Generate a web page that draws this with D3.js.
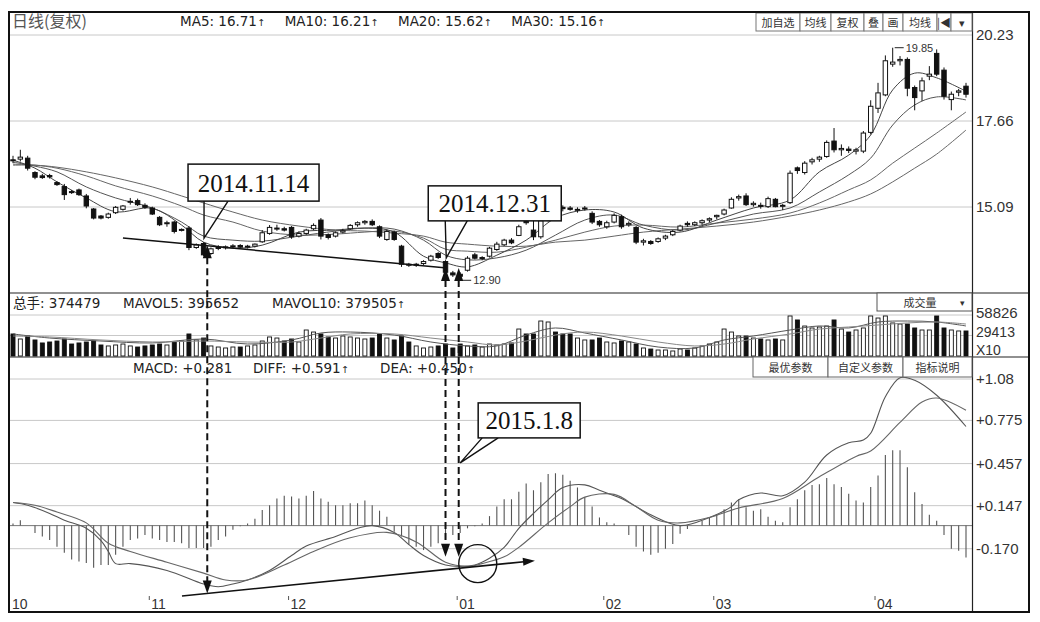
<!DOCTYPE html>
<html><head><meta charset="utf-8">
<script src="https://cdn.jsdelivr.net/npm/d3@7/dist/d3.min.js"></script>
<style>
html,body{margin:0;padding:0;background:#fff;}
svg{display:block;}
</style></head><body>
<svg id="chart" width="1040" height="622" xmlns="http://www.w3.org/2000/svg"></svg>
<script>
// ================= DATA =================
// daily candles [open, high, low, close]
const candles = [
[16.50,16.62,16.40,16.48],[16.52,16.80,16.45,16.58],[16.55,16.62,16.18,16.25],[16.12,16.16,15.92,15.98],[16.02,16.08,15.93,15.97],
[16.03,16.08,15.94,15.99],[15.82,15.86,15.72,15.76],[15.70,15.78,15.30,15.46],[15.55,15.60,15.48,15.52],[15.60,15.64,15.42,15.46],
[15.42,15.48,15.05,15.12],[15.03,15.06,14.72,14.76],[14.82,14.85,14.72,14.76],[14.78,14.92,14.74,14.88],[14.92,15.12,14.88,15.08],
[15.02,15.15,14.98,15.12],[15.24,15.36,15.16,15.26],[15.28,15.34,15.12,15.16],[15.14,15.20,15.04,15.08],[15.06,15.10,14.85,14.88],
[14.78,14.82,14.52,14.56],[14.60,14.68,14.50,14.62],[14.64,14.68,14.30,14.36],[14.40,14.45,14.36,14.42],[14.46,14.52,13.80,13.88],
[13.88,14.00,13.84,13.96],[14.00,14.04,13.62,13.66],[13.70,13.88,13.66,13.84],[13.86,13.95,13.80,13.88],[13.88,13.94,13.82,13.90],
[13.90,13.98,13.86,13.93],[13.94,13.98,13.86,13.89],[13.90,13.96,13.85,13.92],[13.92,14.00,13.88,13.98],[14.05,14.40,14.02,14.32],
[14.30,14.55,14.26,14.48],[14.45,14.56,14.38,14.46],[14.44,14.50,14.36,14.40],[14.48,14.52,14.14,14.20],[14.22,14.36,14.18,14.30],
[14.30,14.44,14.26,14.40],[14.44,14.60,14.40,14.54],[14.70,14.76,14.12,14.22],[14.26,14.30,14.12,14.18],[14.22,14.36,14.18,14.32],
[14.34,14.44,14.30,14.38],[14.44,14.58,14.40,14.54],[14.56,14.66,14.50,14.62],[14.62,14.70,14.56,14.66],[14.66,14.72,14.52,14.56],
[14.50,14.54,14.16,14.22],[14.12,14.42,14.08,14.36],[14.34,14.38,14.08,14.12],[13.92,13.96,13.30,13.38],[13.38,13.42,13.30,13.35],
[13.36,13.42,13.30,13.38],[13.40,13.50,13.36,13.46],[13.50,13.66,13.46,13.62],[13.70,13.74,13.54,13.58],[13.46,13.50,13.10,13.14],
[13.12,13.18,13.00,13.06],[13.08,13.14,12.90,13.02],[13.20,13.62,13.16,13.56],[13.66,13.72,13.52,13.56],[13.56,13.62,13.50,13.58],
[13.62,13.90,13.58,13.86],[13.82,14.05,13.78,13.98],[13.96,14.14,13.92,14.10],[14.10,14.16,13.98,14.02],[14.24,14.56,14.22,14.50],
[14.66,14.72,14.56,14.62],[14.40,14.72,14.10,14.20],[14.20,14.74,14.14,14.68],[14.70,15.26,14.66,15.18],[15.28,15.40,15.10,15.16],
[15.08,15.14,14.96,15.04],[15.06,15.12,14.98,15.02],[15.00,15.08,14.92,15.02],[15.04,15.12,14.98,15.06],[14.90,14.96,14.58,14.64],
[14.66,14.70,14.50,14.56],[14.50,14.68,14.44,14.62],[14.64,14.90,14.60,14.84],[14.80,14.86,14.44,14.50],[14.56,14.66,14.50,14.60],
[14.48,14.52,13.98,14.04],[14.04,14.14,13.94,14.08],[14.06,14.10,13.96,14.00],[14.06,14.18,14.02,14.14],[14.16,14.26,14.10,14.22],
[14.26,14.40,14.22,14.36],[14.40,14.56,14.36,14.52],[14.60,14.66,14.50,14.56],[14.56,14.66,14.52,14.62],[14.62,14.72,14.56,14.68],
[14.70,14.78,14.64,14.74],[14.80,14.86,14.72,14.84],[14.88,15.04,14.84,15.00],[15.06,15.38,15.04,15.32],[15.36,15.46,15.28,15.40],
[15.42,15.50,15.12,15.16],[15.16,15.26,15.10,15.20],[15.14,15.22,15.04,15.12],[15.10,15.40,15.06,15.34],[15.32,15.36,15.08,15.10],
[15.12,15.18,15.00,15.14],[15.22,16.18,15.18,16.10],[16.26,16.30,16.08,16.18],[16.12,16.46,16.06,16.40],[16.44,16.56,16.36,16.50],
[16.52,16.62,16.44,16.58],[16.60,17.08,16.56,17.02],[17.06,17.45,16.72,16.80],[16.80,16.96,16.62,16.84],[16.82,16.90,16.70,16.78],
[16.76,16.86,16.66,16.80],[16.76,17.36,16.70,17.30],[17.32,18.28,17.26,18.10],[18.04,18.80,17.90,18.50],[18.44,19.62,18.40,19.46],
[19.36,19.85,19.28,19.42],[19.46,19.60,19.32,19.50],[19.50,19.56,18.40,18.64],[18.66,18.72,17.98,18.36],[18.56,18.96,18.26,18.86],
[19.00,19.30,18.88,19.06],[19.68,19.80,19.00,19.06],[19.18,19.26,18.30,18.40],[18.30,18.54,17.98,18.46],[18.52,18.62,18.40,18.56],
[18.70,18.80,18.36,18.46]
];

// moving-average lines, read at these bar positions
const maIdx = [0,3,6,10,14,19,23,26,30,34,39,44,48,52,56,59,62,66,70,74,78,82,86,91,96,101,106,110,114,117,120,123,126,130];
const ma5  = [16.49,16.25,15.84,15.36,14.95,15.05,14.55,14.04,13.86,13.95,14.34,14.40,14.46,14.34,13.62,13.42,13.30,13.65,14.10,14.76,15.00,14.94,14.46,14.34,14.70,15.06,15.30,16.14,16.64,17.24,18.59,19.09,18.95,18.55];
const ma10 = [16.43,16.31,16.14,15.69,15.36,15.06,14.64,14.22,14.10,14.07,14.22,14.37,14.46,14.43,14.10,13.65,13.51,13.57,13.80,14.25,14.70,14.85,14.55,14.40,14.61,14.88,15.06,15.54,16.05,16.55,17.54,18.14,18.38,18.29];
const ma20 = [16.37,16.34,16.25,16.02,15.72,15.42,15.12,14.85,14.64,14.37,14.25,14.28,14.34,14.37,14.16,13.83,13.77,13.74,13.89,14.10,14.34,14.52,14.55,14.49,14.61,14.73,14.91,15.21,15.60,15.90,16.40,16.85,17.30,17.93];
const ma30 = [16.34,16.34,16.28,16.14,15.96,15.69,15.42,15.21,14.94,14.70,14.52,14.40,14.37,14.31,14.22,14.04,13.98,13.92,13.92,14.04,14.10,14.22,14.34,14.43,14.52,14.64,14.82,15.00,15.24,15.48,15.84,16.25,16.67,17.39];

// volume (x10 lots)
const volumes = [
31600,24400,28700,23000,18700,20100,21500,24400,17200,18700,
20100,21500,15800,14400,15800,17200,14400,12900,14400,15800,
17200,15800,20100,21500,31600,23000,25800,14400,12900,11500,
12900,12900,14400,15800,21500,27300,25800,21500,24400,20100,
37300,34400,31600,27300,25800,28700,27300,25800,24400,25800,
31600,25800,23000,28700,20100,14400,11500,12900,14400,17200,
11500,17200,14400,15800,12900,17200,15800,17200,18700,38700,
31600,31600,50200,48800,34400,31600,31600,25800,23000,23000,
25800,20100,18700,21500,20100,17200,11500,10000,8600,8600,
7200,10000,8600,11500,14400,17200,20100,38700,34400,28700,
28700,25800,24400,23000,24400,23000,57400,51700,43000,40200,
41600,43000,51700,38700,34400,37300,40200,57400,54500,57400,
47400,45900,45900,40200,37300,37300,57400,40200,37300,35900,
35900];
const mavolIdx = [0,5,12,19,26,32,38,42,46,52,57,62,66,70,74,78,83,88,93,97,101,106,110,114,118,122,126,130];
const mavol5  = [31600,25800,21500,18700,24400,17200,23000,33000,34400,30100,20100,14400,14400,30100,40200,33000,23000,12900,11500,23000,28700,37300,43100,40200,48800,50200,48800,43100];
const mavol10 = [28700,27300,23000,20100,21500,20100,20100,25800,31600,31600,25800,20100,15800,21500,30100,34400,28700,20100,14400,17200,24400,31600,38700,41600,44500,47400,48800,45900];

// MACD histogram
const macdHist = [
0.015,0.04,0.0,-0.055,-0.08,-0.105,-0.155,-0.20,-0.25,-0.265,
-0.275,-0.31,-0.29,-0.29,-0.215,-0.155,-0.105,-0.095,-0.07,-0.095,
-0.105,-0.12,-0.12,-0.13,-0.165,-0.165,-0.165,-0.155,-0.105,-0.08,
-0.03,-0.005,0.015,0.05,0.115,0.15,0.20,0.22,0.215,0.20,
0.22,0.255,0.20,0.175,0.15,0.15,0.165,0.165,0.185,0.15,
0.11,0.065,-0.045,-0.08,-0.14,-0.155,-0.18,-0.155,-0.13,-0.105,
-0.07,-0.055,-0.02,-0.005,0.015,0.07,0.14,0.195,0.195,0.25,
0.31,0.26,0.32,0.38,0.385,0.375,0.33,0.28,0.21,0.14,
0.06,0.025,0.015,0.0,-0.07,-0.155,-0.19,-0.215,-0.20,-0.17,
-0.135,-0.06,-0.025,0.0,0.035,0.06,0.085,0.12,0.17,0.195,
0.135,0.11,0.12,0.065,0.035,0.025,0.135,0.195,0.26,0.30,
0.305,0.35,0.305,0.285,0.235,0.185,0.17,0.285,0.37,0.52,
0.555,0.555,0.43,0.245,0.16,0.08,0.035,-0.07,-0.17,-0.185,
-0.235];
const diffIdx  = [0,2,5,7,10,12,13,14,16,21,26,28,30,32,35,38,40,44,47,49,52,54,56,59,61,63,65,67,69,71,73,75,78,80,83,87,91,95,98,99,102,105,108,111,114,116,117,119,121,123,126,130];
const diffVals = [0.17,0.15,0.09,0.04,-0.02,-0.11,-0.19,-0.28,-0.28,-0.33,-0.43,-0.45,-0.43,-0.40,-0.33,-0.22,-0.15,-0.08,-0.02,0.00,-0.05,-0.14,-0.22,-0.29,-0.30,-0.29,-0.24,-0.16,-0.02,0.09,0.19,0.28,0.30,0.26,0.20,0.08,0.00,0.06,0.14,0.19,0.24,0.22,0.32,0.52,0.61,0.63,0.68,0.95,1.09,1.07,0.96,0.73];
const deaIdx   = [0,3,6,10,13,16,21,26,29,32,37,41,46,51,55,59,62,64,67,69,73,76,78,82,85,88,91,95,99,105,110,115,117,121,124,126,130];
const deaVals  = [0.17,0.15,0.10,0.02,-0.13,-0.19,-0.27,-0.35,-0.40,-0.40,-0.29,-0.19,-0.09,-0.05,-0.12,-0.27,-0.30,-0.28,-0.23,-0.16,0.02,0.14,0.21,0.23,0.14,0.04,0.02,0.06,0.13,0.20,0.36,0.51,0.55,0.76,0.91,0.94,0.85];

// axis ticks and labels
const priceTicks = [20.23, 17.66, 15.09];
const volTicks = [58826, 29413];
const macdTicks = [1.08, 0.775, 0.457, 0.147, -0.170];
const macdTickLabels = ["+1.08", "+0.775", "+0.457", "+0.147", "-0.170"];
const monthIdx = [0, 19, 38, 61, 81, 96, 118];
const monthLabels = ["10", "11", "12", "01", "02", "03", "04"];

// header texts
const maHeader = [["MA5: 16.71", true], ["MA10: 16.21", true], ["MA20: 15.62", true], ["MA30: 15.16", true]];
const volHeader = [["总手: 374479", false], ["MAVOL5: 395652", false], ["MAVOL10: 379505", true]];
const macdHeader = [["MACD: +0.281", false], ["DIFF: +0.591", true], ["DEA: +0.450", true]];
const topButtons = ["加自选", "均线", "复权", "叠", "画", "均线", "|◀", "▾"];
const macdButtons = ["最优参数", "自定义参数", "指标说明"];

// annotations (bar position, value)
const callouts = [
  {text: "2014.11.14", i: 26.06, p: 14.16, panel: "price"},
  {text: "2014.12.31", i: 59.1, p: 13.57, panel: "price"},
  {text: "2015.1.8",  i: 61.0, p: 0.462, panel: "macd"}
];
const markers = [{i: 26.5, topP: 13.95, botM: -0.50}, {i: 59.0, topP: 13.27, botM: -0.23}, {i: 60.8, topP: 13.27, botM: -0.23}];
const priceTrend = [{i: 15, p: 14.16}, {i: 59.2, p: 13.27}];
const macdTrend = [{i: 23.05, v: -0.518}, {i: 71.2, v: -0.258}];
const macdCircle = {i: 63.4, v: -0.28};
const highLabel = {i: 120, p: 19.85, text: "19.85"};
const lowLabel = {i: 61, p: 12.90, text: "12.90"};

// ================= DRAW =================
const FONT = '"Liberation Sans", Arial, "Noto Sans CJK SC", sans-serif';
const HFONT = '"DejaVu Sans", "Noto Sans CJK SC", sans-serif';
const CJK = '"Noto Sans CJK SC", "Liberation Sans", sans-serif';
const svg = d3.select('#chart');
const L = 9, R = 972.5, RB = 1029, T = 12, B = 612;

const x = d3.scaleLinear().domain([0, candles.length - 1]).range([13, 966]);
const yP = d3.scaleLinear().domain([15.09, 20.23]).range([207, 35]);
const yV = d3.scaleLinear().domain([0, 58826]).range([356, 315]);
const yM = d3.scaleLinear().domain([-0.170, 1.08]).range([548.7, 379]);

svg.append('rect').attr('width', 1040).attr('height', 622).attr('fill', '#fff');

const defs = svg.append('defs');
defs.append('clipPath').attr('id', 'clipP').append('rect').attr('x', L).attr('y', 33).attr('width', R - L).attr('height', 293 - 33);
defs.append('clipPath').attr('id', 'clipM').append('rect').attr('x', L).attr('y', 377).attr('width', R - L).attr('height', 598 - 377);

// grid lines
const grid = svg.append('g').attr('stroke', '#c8c8c8').attr('stroke-width', 1);
priceTicks.forEach(v => grid.append('line').attr('x1', L).attr('x2', R).attr('y1', yP(v)).attr('y2', yP(v)));
volTicks.forEach(v => grid.append('line').attr('x1', L).attr('x2', R).attr('y1', yV(v)).attr('y2', yV(v)));
macdTicks.forEach(v => grid.append('line').attr('x1', L).attr('x2', R).attr('y1', yM(v)).attr('y2', yM(v)));
svg.append('line').attr('x1', L).attr('x2', R).attr('y1', yM(0)).attr('y2', yM(0)).attr('stroke', '#777').attr('stroke-width', 1);

// panel separators
const sep = svg.append('g').attr('stroke', '#222').attr('stroke-width', 1.2);
sep.append('line').attr('x1', L).attr('x2', RB).attr('y1', 293).attr('y2', 293);
sep.append('line').attr('x1', L).attr('x2', RB).attr('y1', 357).attr('y2', 357);
sep.append('line').attr('x1', R).attr('x2', R).attr('y1', T).attr('y2', B);

// ---- price panel ----
const pg = svg.append('g').attr('clip-path', 'url(#clipP)');
const maLine = d3.line().x(d => x(d[0])).y(d => yP(d[1])).curve(d3.curveCatmullRom.alpha(0.5));
[[ma30, '#666'], [ma20, '#666'], [ma10, '#555'], [ma5, '#444']].forEach(([arr, col]) => {
  pg.append('path').datum(maIdx.map((k, j) => [k, arr[j]])).attr('d', maLine)
    .attr('fill', 'none').attr('stroke', col).attr('stroke-width', 1);
});
const cg = pg.append('g').selectAll('g').data(candles).join('g');
cg.append('line').attr('x1', (d, i) => x(i)).attr('x2', (d, i) => x(i))
  .attr('y1', d => yP(d[1])).attr('y2', d => yP(d[2])).attr('stroke', '#111').attr('stroke-width', 1);
cg.append('rect').attr('x', (d, i) => x(i) - 2.2).attr('width', 4.4)
  .attr('y', d => yP(Math.max(d[0], d[3])))
  .attr('height', d => Math.max(1, Math.abs(yP(d[0]) - yP(d[3]))))
  .attr('fill', d => d[3] >= d[0] ? '#fff' : '#111').attr('stroke', '#111').attr('stroke-width', 1);

// high / low labels
[highLabel, lowLabel].forEach(lb => {
  const px = x(lb.i) + 2, py = yP(lb.p);
  pg.append('line').attr('x1', px).attr('x2', px + 9).attr('y1', py).attr('y2', py).attr('stroke', '#222');
  pg.append('text').attr('x', px + 11).attr('y', py + 4).attr('font-size', 11).attr('font-family', FONT).attr('fill', '#333').text(lb.text);
});

// ---- volume panel ----
const vg = svg.append('g');
vg.selectAll('rect').data(volumes).join('rect')
  .attr('x', (d, i) => x(i) - 2).attr('width', 4)
  .attr('y', d => yV(d)).attr('height', d => yV(0) - yV(d))
  .attr('fill', (d, i) => candles[i][3] >= candles[i][0] ? '#fff' : '#111')
  .attr('stroke', '#111').attr('stroke-width', 0.9);
const volLine = d3.line().x(d => x(d[0])).y(d => yV(d[1])).curve(d3.curveCatmullRom.alpha(0.5));
[[mavol5, '#555'], [mavol10, '#888']].forEach(([arr, col]) => {
  vg.append('path').datum(mavolIdx.map((k, j) => [k, arr[j]])).attr('d', volLine)
    .attr('fill', 'none').attr('stroke', col).attr('stroke-width', 1);
});

// ---- MACD panel ----
const mg = svg.append('g').attr('clip-path', 'url(#clipM)');
mg.selectAll('line.h').data(macdHist).join('line').attr('class', 'h')
  .attr('x1', (d, i) => x(i)).attr('x2', (d, i) => x(i))
  .attr('y1', yM(0)).attr('y2', d => yM(d)).attr('stroke', '#555').attr('stroke-width', 1.1);
const mLine = d3.line().x(d => x(d[0])).y(d => yM(d[1])).curve(d3.curveCatmullRom.alpha(0.5));
mg.append('path').datum(diffIdx.map((k, j) => [k, diffVals[j]])).attr('d', mLine).attr('fill', 'none').attr('stroke', '#555').attr('stroke-width', 1.1);
mg.append('path').datum(deaIdx.map((k, j) => [k, deaVals[j]])).attr('d', mLine).attr('fill', 'none').attr('stroke', '#666').attr('stroke-width', 1.1);

// ---- annotations ----
const an = svg.append('g');
function arrow(cx, cy, ang, w = 9, h = 12) {
  const bx = cx - Math.cos(ang) * h, by = cy - Math.sin(ang) * h;
  const nx = -Math.sin(ang) * w / 2, ny = Math.cos(ang) * w / 2;
  an.append('path').attr('d', `M${cx},${cy}L${bx + nx},${by + ny}L${bx - nx},${by - ny}Z`).attr('fill', '#111');
}
an.append('line').attr('x1', x(priceTrend[0].i)).attr('y1', yP(priceTrend[0].p))
  .attr('x2', x(priceTrend[1].i)).attr('y2', yP(priceTrend[1].p)).attr('stroke', '#111').attr('stroke-width', 1.5);
{
  const x1 = x(macdTrend[0].i), y1 = yM(macdTrend[0].v), x2 = x(macdTrend[1].i), y2 = yM(macdTrend[1].v);
  an.append('line').attr('x1', x1).attr('y1', y1).attr('x2', x2 - 6).attr('y2', y2 + 0.6).attr('stroke', '#111').attr('stroke-width', 1.6);
  arrow(x2, y2, Math.atan2(y2 - y1, x2 - x1), 8, 12);
}
an.append('circle').attr('cx', x(macdCircle.i)).attr('cy', yM(macdCircle.v)).attr('r', 19)
  .attr('fill', 'none').attr('stroke', '#111').attr('stroke-width', 1.4);
markers.forEach(m => {
  const mx = x(m.i), top = yP(m.topP), bot = yM(m.botM);
  an.append('line').attr('x1', mx).attr('x2', mx).attr('y1', top + 12).attr('y2', bot - 10)
    .attr('stroke', '#111').attr('stroke-width', 2).attr('stroke-dasharray', '7,4');
  arrow(mx, top, -Math.PI / 2, 9, 13);
  arrow(mx, bot, Math.PI / 2, 9, 13);
});
const boxSpec = [
  {dx: -16, dy: -74, w: 131, h: 37, w1: 0, w2: 24},
  {dx: -18, dy: -72, w: 133, h: 35, w1: -1, w2: 21},
  {dx: 18, dy: -60, w: 102, h: 35, w1: 22, w2: 38}
];
callouts.forEach((c, k) => {
  const s = boxSpec[k];
  const tx = x(c.i), ty = c.panel === 'price' ? yP(c.p) : yM(c.p);
  const bx = tx + s.dx, by = ty + s.dy;
  an.append('path').attr('d', `M${tx + s.w1},${by + s.h}L${tx},${ty}L${tx + s.w2},${by + s.h}`)
    .attr('fill', 'none').attr('stroke', '#111').attr('stroke-width', 1.4);
  an.append('rect').attr('x', bx).attr('y', by).attr('width', s.w).attr('height', s.h)
    .attr('fill', '#fff').attr('stroke', '#111').attr('stroke-width', 1.5);
  an.append('text').attr('x', bx + s.w / 2).attr('y', by + s.h / 2 + 9).attr('text-anchor', 'middle')
    .attr('font-family', '"Liberation Serif", "Times New Roman", serif').attr('font-size', 25).attr('fill', '#111').text(c.text);
});

// ---- axis labels ----
const ax = svg.append('g').attr('font-family', FONT).attr('font-size', 15).attr('fill', '#333');
priceTicks.forEach(v => ax.append('text').attr('x', 976).attr('y', Math.max(yP(v), 32) + 5).text(v.toFixed(2)));
ax.append('text').attr('x', 976).attr('y', yV(volTicks[0]) + 3).text(volTicks[0]);
ax.append('text').attr('x', 976).attr('y', yV(volTicks[1]) + 1).attr('font-size', 14).text(volTicks[1]);
ax.append('text').attr('x', 976).attr('y', 355).attr('font-size', 14).text('X10');
macdTicks.forEach((v, k) => ax.append('text').attr('x', 976).attr('y', yM(v) + 5).text(macdTickLabels[k]));

const mx = svg.append('g').attr('font-family', FONT).attr('font-size', 14).attr('fill', '#333');
monthIdx.forEach((k, j) => {
  const px = x(k);
  if (k > 0) mx.append('line').attr('x1', px - 3).attr('x2', px - 3).attr('y1', 596).attr('y2', 600).attr('stroke', '#555');
  mx.append('text').attr('x', k > 0 ? px - 1 : 12).attr('y', 609).text(monthLabels[j]);
});

// ---- headers ----
svg.append('text').attr('x', 12).attr('y', 27).attr('font-family', CJK).attr('font-size', 16).attr('fill', '#555').text('日线(复权)');
function makeItem(t, up, y, size) {
  const tx = svg.append('text').attr('y', y).attr('font-size', size).attr('fill', '#222').attr('font-family', HFONT);
  tx.append('tspan').text(t);
  if (up) tx.append('tspan').attr('font-size', size * 0.72).text('↑');
  return tx;
}
function headerFixed(items, xs, y, size) {
  items.forEach(([t, up], k) => makeItem(t, up, y, size).attr('x', xs[k]));
}
function headerSpread(items, x0, x1, y, size) {
  const nodes = items.map(([t, up]) => makeItem(t, up, y, size).attr('x', 0));
  const widths = nodes.map(n => n.node().getComputedTextLength());
  const gap = (x1 - x0 - d3.sum(widths)) / (items.length - 1);
  let cx = x0;
  nodes.forEach((n, k) => { n.attr('x', cx); cx += widths[k] + gap; });
}
headerSpread(maHeader, 180, 605, 26, 13.5);
headerFixed(volHeader, [13, 123, 272], 308, 13.5);
headerFixed(macdHeader, [133, 253, 380], 373, 13.5);

// header buttons
const btnX = [756, 800, 831, 864, 883, 903, 937, 951, 972];
const bg = svg.append('g');
topButtons.forEach((t, k) => {
  bg.append('rect').attr('x', btnX[k]).attr('y', 13).attr('width', btnX[k + 1] - btnX[k]).attr('height', 18)
    .attr('fill', '#fff').attr('stroke', '#777').attr('stroke-width', 1);
  bg.append('text').attr('x', (btnX[k] + btnX[k + 1]) / 2).attr('y', 26.5).attr('text-anchor', 'middle')
    .attr('font-family', CJK).attr('font-size', 11).attr('fill', '#333').text(t);
});
bg.append('rect').attr('x', 877).attr('y', 293).attr('width', 95).attr('height', 18).attr('fill', '#fff').attr('stroke', '#555');
bg.append('text').attr('x', 920).attr('y', 306.5).attr('text-anchor', 'middle').attr('font-family', CJK).attr('font-size', 11).attr('fill', '#333').text('成交量');
bg.append('text').attr('x', 962).attr('y', 306).attr('text-anchor', 'middle').attr('font-family', CJK).attr('font-size', 9).attr('fill', '#333').text('▾');
const mbX = [753, 828, 903, 972];
macdButtons.forEach((t, k) => {
  bg.append('rect').attr('x', mbX[k]).attr('y', 357).attr('width', mbX[k + 1] - mbX[k]).attr('height', 20)
    .attr('fill', '#fff').attr('stroke', '#666').attr('stroke-width', 1);
  bg.append('text').attr('x', (mbX[k] + mbX[k + 1]) / 2).attr('y', 371.5).attr('text-anchor', 'middle')
    .attr('font-family', CJK).attr('font-size', 11).attr('fill', '#333').text(t);
});

// outer frame
svg.append('rect').attr('x', L).attr('y', T).attr('width', RB - L).attr('height', B - T)
  .attr('fill', 'none').attr('stroke', '#111').attr('stroke-width', 2);
</script>
</body></html>
